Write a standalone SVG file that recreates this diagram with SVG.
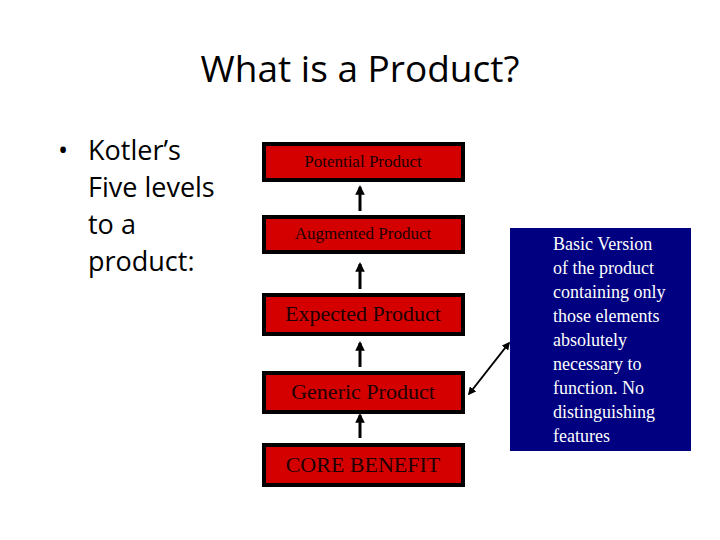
<svg xmlns="http://www.w3.org/2000/svg" width="720" height="540" viewBox="0 0 720 540">
<style>
.box{fill:#d40000;stroke:#000;stroke-width:4}
.bt{font-family:"Liberation Serif",serif;fill:#200000;text-anchor:middle}
.side{font-family:"Liberation Serif",serif;font-size:18px;fill:#fff}
.body{font-family:"Open Sans",sans-serif;font-size:27px;fill:#000}
.c{stroke:#000;stroke-width:3;fill:none}
</style>
<defs>
<marker id="ah" viewBox="0 0 10 10" refX="8" refY="5" markerWidth="3.2" markerHeight="3.2" orient="auto-start-reverse"><path d="M0,0L10,5L0,10z" fill="#000"/></marker>
<marker id="ah2" viewBox="0 0 10 10" refX="8" refY="5" markerWidth="4" markerHeight="4" orient="auto-start-reverse"><path d="M0,0L10,5L0,10z" fill="#000"/></marker>
</defs>
<rect width="720" height="540" fill="#fff"/>
<text x="360" y="82" text-anchor="middle" font-family="Open Sans,sans-serif" font-size="37">What is a Product?</text>
<g id="bullet">
<text x="58" y="160" class="body">•</text>
<text class="body"><tspan x="88" y="160">Kotler’s</tspan><tspan x="88" y="197">Five levels</tspan><tspan x="88" y="234">to a</tspan><tspan x="88" y="271">product:</tspan></text>
</g>
<g id="potential"><rect class="box" x="264" y="144" width="199" height="36"/><text class="bt" x="363" y="167" font-size="17">Potential Product</text></g>
<g id="augmented"><rect class="box" x="264" y="217" width="199" height="35"/><text class="bt" x="363" y="239" font-size="17">Augmented Product</text></g>
<g id="expected"><rect class="box" x="264" y="295" width="199" height="39"/><text class="bt" x="363" y="321" font-size="22">Expected Product</text></g>
<g id="generic"><rect class="box" x="264" y="373" width="199" height="39"/><text class="bt" x="363" y="399" font-size="22">Generic Product</text></g>
<g id="core"><rect class="box" x="264" y="445" width="199" height="40"/><text class="bt" x="363" y="472" font-size="22">CORE BENEFIT</text></g>
<g id="basic"><rect x="510" y="228" width="181" height="223" fill="#000080"/>
<text class="side"><tspan x="553" y="250">Basic Version</tspan><tspan x="553" y="274">of the product</tspan><tspan x="553" y="298">containing only</tspan><tspan x="553" y="322">those elements</tspan><tspan x="553" y="346">absolutely</tspan><tspan x="553" y="370">necessary to</tspan><tspan x="553" y="394">function. No</tspan><tspan x="553" y="418">distinguishing</tspan><tspan x="553" y="442">features</tspan></text></g>
<g id="connectors">
<line class="c" x1="360" y1="211" x2="360" y2="187" marker-end="url(#ah)"/>
<line class="c" x1="360" y1="289" x2="360" y2="264" marker-end="url(#ah)"/>
<line class="c" x1="360" y1="367" x2="360" y2="343" marker-end="url(#ah)"/>
<line class="c" x1="360" y1="438" x2="360" y2="415" marker-end="url(#ah)"/>
<line x1="469" y1="394" x2="509" y2="343" stroke="#000" stroke-width="2" marker-start="url(#ah2)" marker-end="url(#ah2)"/>
</g>
</svg>
